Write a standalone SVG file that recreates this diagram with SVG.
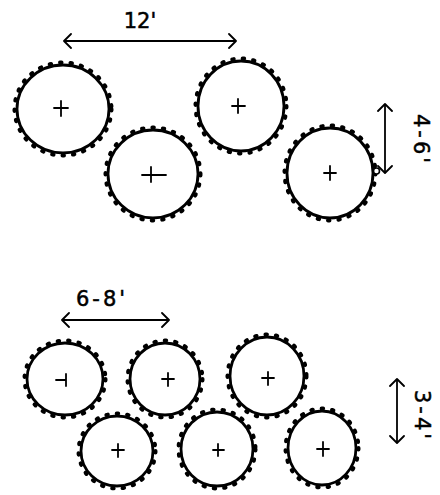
<svg xmlns="http://www.w3.org/2000/svg" width="440" height="495" viewBox="0 0 440 495">
<style>
.ring{fill:none;stroke:#000;stroke-width:2.8}
.teeth{fill:none;stroke:#000;stroke-width:4;stroke-dasharray:1.5 9;stroke-linecap:round}
.cross{fill:none;stroke:#000;stroke-width:1.8;stroke-linecap:round}
.dim{fill:none;stroke:#000;stroke-width:1.8}
.lbl{font-family:"DejaVu Sans","Liberation Sans",sans-serif;font-size:21px;fill:#000;stroke:#000;stroke-width:0.5}
</style>
<defs>
<marker id="chev" viewBox="-10 -8 12 16" refX="0" refY="0" markerWidth="12" markerHeight="16" markerUnits="userSpaceOnUse" orient="auto-start-reverse">
<path d="M-7,-7 L0,0 L-7,7" fill="none" stroke="#000" stroke-width="1.8" stroke-linecap="round" stroke-linejoin="round"/>
</marker>
</defs>
<rect width="440" height="495" fill="#fff"/>
<g id="connectors">
<line class="dim" x1="64" y1="41" x2="236" y2="41" marker-start="url(#chev)" marker-end="url(#chev)"/>
<line class="dim" x1="385" y1="104" x2="385" y2="173" marker-start="url(#chev)" marker-end="url(#chev)"/>
<line class="dim" x1="62" y1="320" x2="169" y2="320" marker-start="url(#chev)" marker-end="url(#chev)"/>
<line class="dim" x1="397" y1="379" x2="397" y2="443" marker-start="url(#chev)" marker-end="url(#chev)"/>
</g>
<g id="labels">
<text class="lbl" x="140" y="28" text-anchor="middle">12'</text>
<text class="lbl" transform="translate(414,140) rotate(90)" text-anchor="middle" letter-spacing="3">4-6'</text>
<text class="lbl" x="102" y="306" text-anchor="middle" letter-spacing="3">6-8'</text>
<text class="lbl" transform="translate(415,416) rotate(90)" text-anchor="middle" letter-spacing="3">3-4'</text>
</g>
<g id="tree1">
<ellipse class="ring" cx="63" cy="109" rx="46" ry="44"/>
<ellipse class="teeth" cx="63" cy="109" rx="48.5" ry="46.5"/>
<path class="cross" d="M54,108 H68 M61,101 V116"/>
</g>
<g id="tree2">
<ellipse class="ring" cx="153" cy="174" rx="45" ry="44"/>
<ellipse class="teeth" cx="153" cy="174" rx="47.5" ry="46.5"/>
<path class="cross" d="M142,175 H166 M151,167 V182"/>
</g>
<g id="tree3">
<ellipse class="ring" cx="241" cy="106" rx="43" ry="45"/>
<ellipse class="teeth" cx="241" cy="106" rx="45.5" ry="47.5"/>
<path class="cross" d="M232,106 H245 M238,99 V113"/>
</g>
<g id="tree4">
<ellipse class="ring" cx="330" cy="173" rx="43" ry="45"/>
<ellipse class="teeth" cx="330" cy="173" rx="45.5" ry="47.5"/>
<path class="cross" d="M324,173 H336 M330,166 V180"/>
<circle cx="376.5" cy="171" r="3" fill="#fff" stroke="#000" stroke-width="1.6"/>
</g>
<g id="tree5">
<ellipse class="ring" cx="65" cy="379" rx="38" ry="36"/>
<ellipse class="teeth" cx="65" cy="379" rx="40.5" ry="38.5"/>
<path class="cross" d="M56,380 H66 M66,374 V386"/>
</g>
<g id="tree6">
<ellipse class="ring" cx="165" cy="379" rx="35" ry="36"/>
<ellipse class="teeth" cx="165" cy="379" rx="37.5" ry="38.5"/>
<path class="cross" d="M162,379 H174 M168,373 V386"/>
</g>
<g id="tree7">
<ellipse class="ring" cx="267" cy="376" rx="37" ry="39"/>
<ellipse class="teeth" cx="267" cy="376" rx="39.5" ry="41.5"/>
<path class="cross" d="M262,378 H274 M268,372 V385"/>
</g>
<g id="tree8">
<ellipse class="ring" cx="117" cy="451" rx="36" ry="35"/>
<ellipse class="teeth" cx="117" cy="451" rx="38.5" ry="37.5"/>
<path class="cross" d="M112,450 H124 M118,444 V457"/>
</g>
<g id="tree9">
<ellipse class="ring" cx="217" cy="449" rx="36" ry="37"/>
<ellipse class="teeth" cx="217" cy="449" rx="38.5" ry="39.5"/>
<path class="cross" d="M213,450 H224 M218,444 V456"/>
</g>
<g id="tree10">
<ellipse class="ring" cx="322" cy="448" rx="34" ry="37"/>
<ellipse class="teeth" cx="322" cy="448" rx="36.5" ry="39.5"/>
<path class="cross" d="M317,449 H329 M323,442 V456"/>
</g>
</svg>
